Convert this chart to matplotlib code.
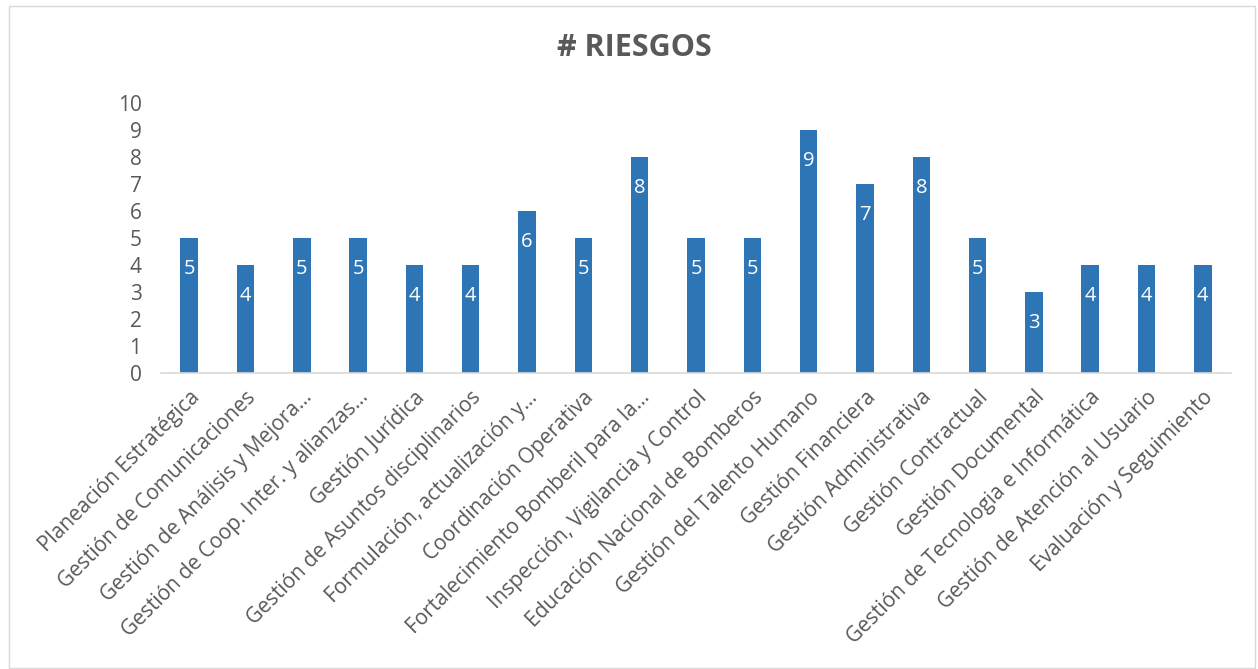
import matplotlib.pyplot as plt
import numpy as np

categorias = [
    'Planeación Estratégica',
    'Gestión de Comunicaciones',
    'Gestión de Análisis y Mejora...',
    'Gestión de Coop. Inter. y alianzas...',
    'Gestión Jurídica',
    'Gestión de Asuntos disciplinarios',
    'Formulación, actualización y...',
    'Coordinación Operativa',
    'Fortalecimiento Bomberil para la...',
    'Inspección, Vigilancia y Control',
    'Educación Nacional de Bomberos',
    'Gestión del Talento Humano',
    'Gestión Financiera',
    'Gestión Administrativa',
    'Gestión Contractual',
    'Gestión Documental',
    'Gestión de Tecnologia e Informática',
    'Gestión de Atención al Usuario',
    'Evaluación y Seguimiento',
]
riesgos = [5, 4, 5, 5, 4, 4, 6, 5, 8, 5, 5, 9, 7, 8, 5, 3, 4, 4, 4]

plt.rcParams['font.family'] = ['Open Sans', 'DejaVu Sans']
gris = '#595959'

fig = plt.figure(figsize=(12.58, 6.69), dpi=100)
ax = fig.add_axes([161 / 1258, 1 - 373 / 669, 1070 / 1258, 270 / 669])

x = np.arange(len(categorias))
ax.bar(x, riesgos, width=0.31, color='#2E75B6')

for xi, v in zip(x, riesgos):
    ax.annotate(str(v), (xi, v), xytext=(0, -22), textcoords='offset points',
                ha='center', va='center', color='white', fontsize=14.5)

ax.set_xlim(-0.5, len(categorias) - 0.5)
ax.set_ylim(0, 10)
ax.set_yticks(range(0, 11))
ax.set_xticks(x)
ax.set_xticklabels(categorias, rotation=45, ha='right', va='top',
                   rotation_mode='anchor', fontsize=15, color=gris)
ax.tick_params(axis='y', length=0, labelsize=15, labelcolor=gris, pad=14)
ax.tick_params(axis='x', length=0, pad=10)

for s in ['top', 'right', 'left']:
    ax.spines[s].set_visible(False)
ax.spines['bottom'].set_color('#D9D9D9')
ax.spines['bottom'].set_linewidth(1.2)

fig.text(634 / 1258, 1 - 48 / 669, '# RIESGOS', ha='center', va='center',
         fontsize=22, fontweight='bold', color=gris)

borde = plt.Rectangle((9 / 1258, 1 / 669), 1246 / 1258, 662 / 669,
                      transform=fig.transFigure, fill=False,
                      edgecolor='#D9D9D9', linewidth=1)
fig.patches.append(borde)

fig.savefig('out.png', dpi=100)
